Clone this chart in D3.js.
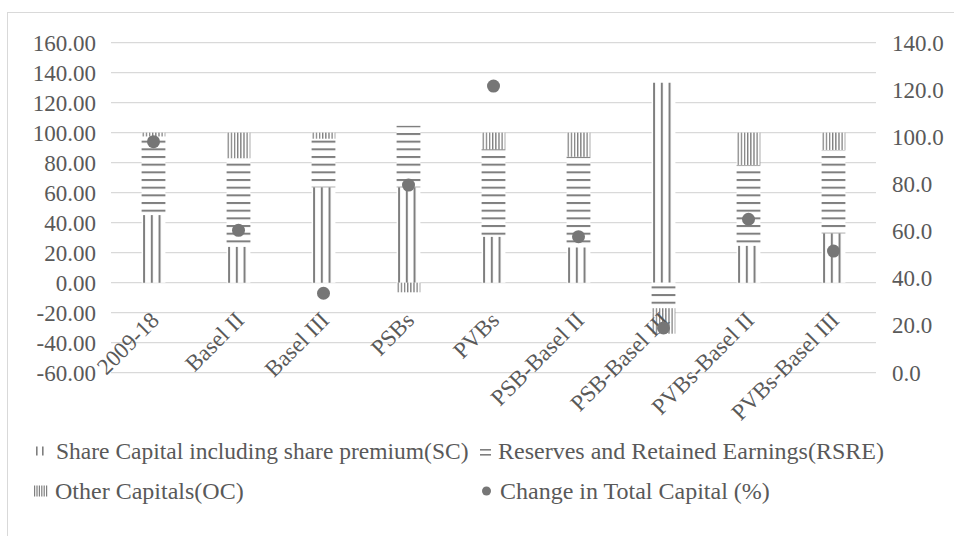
<!DOCTYPE html>
<html lang="en">
  <head>
    <meta charset="UTF-8" />
    <title>Capital components</title>
    <script src="https://d3js.org/d3.v7.min.js"></script>
    <style>
      body {
        margin: 0;
        background: #fff;
      }
      svg text {
        font-family: "Liberation Serif", "Times New Roman", "DejaVu Serif", serif;
        fill: #595959;
      }
    </style>
  </head>
  <body>
    <svg width="954" height="536"></svg>

    <script>
      // values
      const categories = [
        "2009-18", "Basel II", "Basel III", "PSBs", "PVBs",
        "PSB-Basel II", "PSB-Basel III", "PVBs-Basel II", "PVBs-Basel III",
      ];
      const shareCapital = [45.1, 24.0, 63.6, 63.6, 30.7, 23.6, 133.3, 24.7, 32.9];
      const reserves = [52.4, 59.0, 32.4, 41.0, 58.3, 60.4, -17.0, 53.8, 55.6];
      const otherCapitals = [2.5, 17.0, 4.0, -6.4, 11.0, 16.0, -17.0, 21.5, 11.5];
      const totalChange = [98.0, 60.4, 33.7, 79.6, 121.6, 57.7, 19.0, 65.1, 51.6];

      const leftTicks = d3.range(-60, 161, 20);
      const rightTicks = d3.range(0, 141, 20);

      const seriesNames = [
        "Share Capital including share premium(SC)",
        "Reserves and Retained Earnings(RSRE)",
        "Other Capitals(OC)",
        "Change in Total Capital (%)",
      ];

      const svg = d3.select("svg");
      const grey = "#7f7f7f";
      const serif = '"Liberation Serif", "Times New Roman", "DejaVu Serif", serif';

      // outer chart border (runs past the right/bottom edge)
      svg.append("rect")
        .attr("x", 7.5).attr("y", 12.5)
        .attr("width", 980).attr("height", 560)
        .attr("fill", "#fff")
        .attr("stroke", "#d9d9d9");

      const x = d3.scaleBand()
        .domain(categories)
        .range([111, 876])
        .paddingInner(0.72)
        .paddingOuter(0.36);
      const y = d3.scaleLinear().domain([-60, 160]).range([372.7, 42.7]);
      const y2 = d3.scaleLinear().domain([0, 140]).range([372.7, 42.7]);

      // hatch patterns
      const defs = svg.append("defs");
      const step = x.step();

      const sc = defs.append("pattern")
        .attr("id", "pat-sc")
        .attr("patternUnits", "userSpaceOnUse")
        .attr("width", step / 11).attr("height", 10)
        .attr("x", x(categories[0]) + 1.5);
      sc.append("rect").attr("width", step / 11).attr("height", 10).attr("fill", "#fff");
      sc.append("rect").attr("width", 2).attr("height", 10).attr("fill", grey);

      const rs = defs.append("pattern")
        .attr("id", "pat-rs")
        .attr("patternUnits", "userSpaceOnUse")
        .attr("width", 10).attr("height", 7.67)
        .attr("y", 2.6);
      rs.append("rect").attr("width", 10).attr("height", 7.67).attr("fill", "#fff");
      rs.append("rect").attr("width", 10).attr("height", 2).attr("fill", grey);

      const oc = defs.append("pattern")
        .attr("id", "pat-oc")
        .attr("patternUnits", "userSpaceOnUse")
        .attr("width", step / 27).attr("height", 10)
        .attr("x", x(categories[0]) + 1);
      oc.append("rect").attr("width", step / 27).attr("height", 10).attr("fill", "#fff");
      oc.append("rect").attr("width", 1.3).attr("height", 10).attr("fill", grey);

      const fills = ["url(#pat-sc)", "url(#pat-rs)", "url(#pat-oc)"];

      // gridlines
      svg.append("g")
        .selectAll("line")
        .data(leftTicks)
        .join("line")
        .attr("x1", 111).attr("x2", 876)
        .attr("y1", (d) => y(d)).attr("y2", (d) => y(d))
        .attr("stroke", "#d9d9d9")
        .attr("stroke-width", 1.2);

      // stacked bars
      const rows = categories.map((c, i) => ({
        cat: c, sc: shareCapital[i], rs: reserves[i], oc: otherCapitals[i],
      }));
      const stack = d3.stack()
        .keys(["sc", "rs", "oc"])
        .offset(d3.stackOffsetDiverging);
      const layers = stack(rows);

      svg.append("g")
        .selectAll("g")
        .data(layers)
        .join("g")
        .attr("fill", (d, i) => fills[i])
        .selectAll("rect")
        .data((d) => d)
        .join("rect")
        .attr("x", (d) => x(d.data.cat))
        .attr("width", x.bandwidth())
        .attr("y", (d) => y(Math.max(d[0], d[1])))
        .attr("height", (d) => Math.abs(y(d[0]) - y(d[1])));

      // plain hyphen for negatives, like the original
      const fmt2 = (d) => d3.format(".2f")(d).replace("−", "-");
      const fmt1 = (d) => d3.format(".1f")(d).replace("−", "-");

      // left axis
      const leftAxis = svg.append("g")
        .attr("transform", "translate(96,0)")
        .call(d3.axisLeft(y).tickValues(leftTicks).tickFormat(fmt2).tickSize(0).tickPadding(0))
        .attr("font-family", serif)
        .attr("font-size", 23);
      leftAxis.select(".domain").remove();
      leftAxis.selectAll("text").attr("fill", "#595959");

      // right axis
      const rightAxis = svg.append("g")
        .attr("transform", "translate(892,0)")
        .call(d3.axisRight(y2).tickValues(rightTicks).tickFormat(fmt1).tickSize(0).tickPadding(0))
        .attr("font-family", serif)
        .attr("font-size", 23);
      rightAxis.select(".domain").remove();
      rightAxis.selectAll("text").attr("fill", "#595959");

      // category labels, rotated
      svg.append("g")
        .attr("font-family", serif)
        .selectAll("text")
        .data(categories)
        .join("text")
        .attr("transform", (d) => `translate(${x(d) + x.bandwidth() / 2 + 7},${y(-20) + 9}) rotate(-45)`)
        .attr("text-anchor", "end")
        .attr("font-size", 23)
        .text((d) => d);

      // change in total capital dots
      svg.append("g")
        .selectAll("circle")
        .data(totalChange)
        .join("circle")
        .attr("cx", (d, i) => x(categories[i]) + x.bandwidth() / 2)
        .attr("cy", (d) => y2(d))
        .attr("r", 6.5)
        .attr("fill", "#767676");

      // legend
      const legend = svg.append("g").attr("font-family", serif);
      const legendItems = [
        { x: 36, y: 451, i: 0 },
        { x: 480, y: 451, i: 1 },
        { x: 34, y: 491, i: 2 },
        { x: 482, y: 491, i: 3 },
      ];
      legendItems.forEach((it) => {
        const g = legend.append("g").attr("transform", `translate(${it.x},${it.y})`);
        if (it.i === 0) {
          g.append("rect").attr("x", 0).attr("y", -4.5).attr("width", 1.6).attr("height", 9).attr("fill", grey);
          g.append("rect").attr("x", 6).attr("y", -4.5).attr("width", 1.6).attr("height", 9).attr("fill", grey);
        } else if (it.i === 1) {
          g.append("rect").attr("x", 0).attr("y", -2).attr("width", 11).attr("height", 1.6).attr("fill", grey);
          g.append("rect").attr("x", 0).attr("y", 3).attr("width", 11).attr("height", 1.6).attr("fill", grey);
        } else if (it.i === 2) {
          d3.range(6).forEach((k) => {
            g.append("rect").attr("x", k * 2.4).attr("y", -5.5).attr("width", 1.2).attr("height", 11).attr("fill", grey);
          });
        } else {
          g.append("circle").attr("cx", 4.5).attr("cy", 0).attr("r", 4.5).attr("fill", "#767676");
        }
        g.append("text")
          .attr("x", it.i === 0 ? 20 : it.i === 2 ? 21 : 18)
          .attr("y", 7.5)
          .attr("font-size", it.i === 0 ? 23.5 : 24)
          .text(seriesNames[it.i]);
      });
    </script>
  </body>
</html>
